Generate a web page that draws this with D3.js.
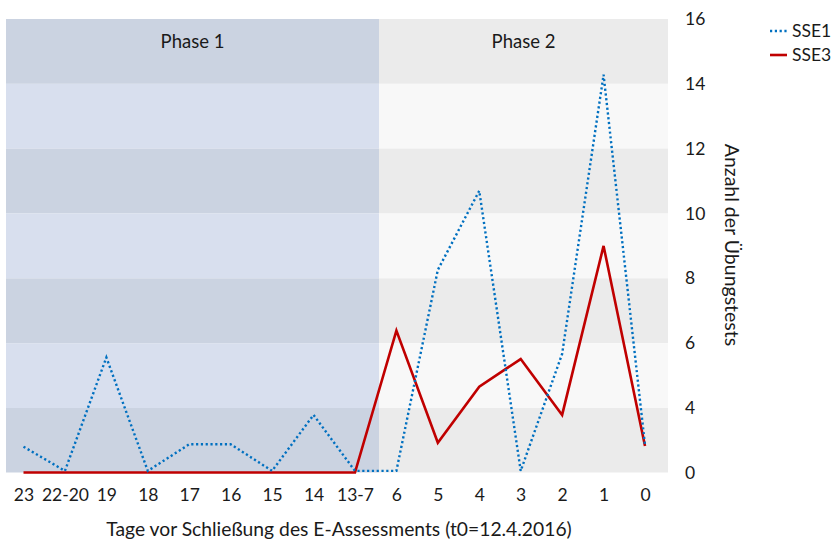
<!DOCTYPE html>
<html>
<head>
<meta charset="utf-8">
<script src="https://cdn.jsdelivr.net/npm/d3@7"></script>
<style>
  html, body { margin: 0; padding: 0; background: #ffffff; }
  svg text { font-family: Lato, "Open Sans", sans-serif; fill: #1a1a1a; }
</style>
</head>
<body>
<svg id="chart" width="831" height="542"></svg>
<script>
// ---- data ----
const categories = ["23", "22-20", "19", "18", "17", "16", "15", "14", "13-7", "6", "5", "4", "3", "2", "1", "0"];
const sse1 = [1.6, 0.1, 5.56, 0.1, 1.75, 1.75, 0.1, 3.57, 0.1, 0.1, 8.26, 10.7, 0.1, 5.67, 14.28, 1.7];
const sse3 = [0, 0, 0, 0, 0, 0, 0, 0, 0, 6.39, 1.85, 4.66, 5.51, 3.57, 9.0, 1.65];
const yTicks = [0, 4, 6, 8, 10, 12, 14, 16];
const phases = [
  { name: "Phase 1", first: "23", last: "13-7" },
  { name: "Phase 2", first: "6", last: "0" }
];
const seriesNames = ["SSE1", "SSE3"];
const xTitle = "Tage vor Schließung des E-Assessments (t0=12.4.2016)";
const yTitle = "Anzahl der Übungstests";

// ---- layout ----
const plotLeft = 6, plotRight = 668, plotTop = 19, plotBottom = 472.5;
const svg = d3.select("#chart");

const x = d3.scalePoint().domain(categories).range([23.5, 645]);
const step = x.step();
// piecewise linear value axis as in the original (0..4 occupies one band)
const y = d3.scaleLinear().domain([0, 4, 16]).range([plotBottom, 408, plotTop]);

const colors = {
  "Phase 1": ["#cbd3e1", "#d8dfee"],
  "Phase 2": ["#ebebeb", "#f8f8f8"]
};

function phaseExtent(p) {
  const i0 = categories.indexOf(p.first), i1 = categories.indexOf(p.last);
  const left = i0 === 0 ? plotLeft : x(categories[i0 - 1]) + step * 0.58;
  const right = i1 === categories.length - 1 ? plotRight : x(p.last) + step * 0.58;
  return [left, right];
}

// bands
const bandPairs = d3.pairs(yTicks.slice().reverse());
const bg = svg.append("g");
phases.forEach(p => {
  const [l, r] = phaseExtent(p);
  bandPairs.forEach((b, i) => {
    bg.append("rect")
      .attr("x", l).attr("width", r - l)
      .attr("y", y(b[0])).attr("height", y(b[1]) - y(b[0]))
      .attr("fill", colors[p.name][i % 2]);
  });
  bg.append("text")
    .attr("x", (l + r) / 2).attr("y", 48)
    .attr("text-anchor", "middle")
    .style("font-size", "18.5px")
    .text(p.name);
});

// lines
const line = d3.line().x((d, i) => x(categories[i])).y(d => y(d));
svg.append("path").datum(sse3)
  .attr("d", line).attr("fill", "none")
  .attr("stroke", "#c00000").attr("stroke-width", 2.6)
  .attr("stroke-linejoin", "miter");
svg.append("path").datum(sse1)
  .attr("d", line).attr("fill", "none")
  .attr("stroke", "#0070c0").attr("stroke-width", 2.4)
  .attr("stroke-dasharray", "2.2 2.6");

// x axis
const xAxis = svg.append("g")
  .attr("transform", `translate(0,${plotBottom})`)
  .call(d3.axisBottom(x).tickSize(0).tickPadding(16));
xAxis.select(".domain").remove();
xAxis.selectAll("text").style("font-size", "17.5px").attr("fill", "#1a1a1a");

// y axis (right)
const yAxis = svg.append("g")
  .attr("transform", `translate(683,0)`)
  .call(d3.axisRight(y).tickValues(yTicks).tickSize(0).tickPadding(2).tickFormat(d3.format("d")));
yAxis.select(".domain").remove();
yAxis.selectAll("text").style("font-size", "17.5px").attr("fill", "#1a1a1a");

// titles
svg.append("text")
  .attr("x", 339).attr("y", 536)
  .attr("text-anchor", "middle")
  .style("font-size", "19.3px")
  .text(xTitle);
svg.append("text")
  .attr("transform", `translate(725,245) rotate(90)`)
  .attr("text-anchor", "middle")
  .style("font-size", "19.5px")
  .text(yTitle);

// legend
const legend = svg.append("g").attr("transform", "translate(770,31)");
seriesNames.forEach((n, i) => {
  const g = legend.append("g").attr("transform", `translate(0,${i * 24})`);
  g.append("line").attr("x1", 0).attr("x2", 17).attr("y1", 0).attr("y2", 0)
    .attr("stroke", i === 0 ? "#0070c0" : "#c00000")
    .attr("stroke-width", i === 0 ? 2.4 : 2.6)
    .attr("stroke-dasharray", i === 0 ? "2.2 2.6" : null);
  g.append("text").attr("x", 22).attr("y", 0).attr("dy", "0.35em")
    .style("font-size", "17.5px").text(n);
});
</script>
</body>
</html>
